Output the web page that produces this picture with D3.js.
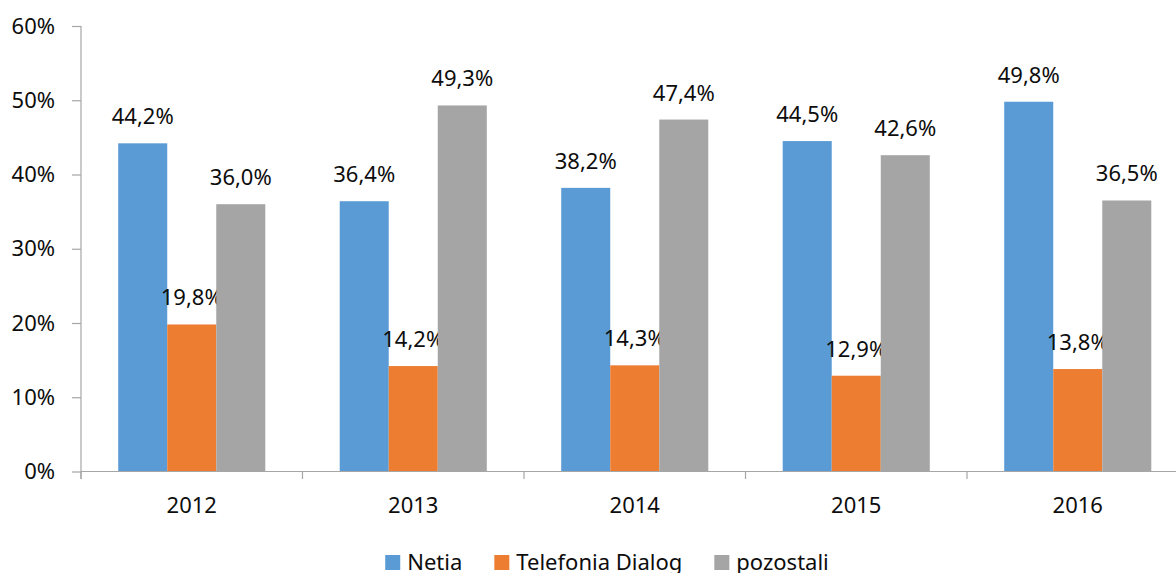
<!DOCTYPE html>
<html>
<head>
<meta charset="utf-8">
<script src="https://cdn.jsdelivr.net/npm/d3@7"></script>
<style>
    body { margin: 0; background: #fff; }
    svg text { font-family: "Noto Sans", "Open Sans", sans-serif; fill: #0d0d0d; }
</style>
</head>
<body>
<svg id="chart" width="1176" height="573"></svg>
<script>
// Categories on the x-axis
var years = ['2012', '2013', '2014', '2015', '2016'];
// Series names, in the order the bars are drawn
var seriesNames = ['Netia', 'Telefonia Dialog', 'pozostali'];
// Values of each series in percent
var netia = [44.2, 36.4, 38.2, 44.5, 49.8];
var telefoniaDialog = [19.8, 14.2, 14.3, 12.9, 13.8];
var pozostali = [36.0, 49.3, 47.4, 42.6, 36.5];
// Y-axis tick values
var yTicks = [0, 10, 20, 30, 40, 50, 60];

var seriesValues = [netia, telefoniaDialog, pozostali];
var colors = ['#5b9bd5', '#ed7d31', '#a5a5a5'];

var svg = d3.select('#chart');

// Plot area (the x-axis runs past the right edge like the original)
var plotLeft = 81, plotRight = 1188.5, plotTop = 26, plotBottom = 471.5;

// Set the scales of the chart
var x0 = d3.scaleBand()
    .domain(years)
    .range([plotLeft, plotRight])
    .paddingInner(0)
    .paddingOuter(0);

var groupWidth = x0.bandwidth() * 0.664;
var x1 = d3.scaleBand()
    .domain(seriesNames)
    .range([(x0.bandwidth() - groupWidth) / 2, (x0.bandwidth() + groupWidth) / 2]);

var y = d3.scaleLinear()
    .domain([0, 60])
    .range([plotBottom, plotTop]);

// Format numbers with a comma as decimal mark
function pct(v) {
    return v.toFixed(1).replace('.', ',') + '%';
}

// Draw the Y-Axis
var yAxis = svg.append('g')
    .attr('transform', 'translate(' + plotLeft + ',0)')
    .call(d3.axisLeft(y)
        .tickValues(yTicks)
        .tickSize(9)
        .tickPadding(17)
        .tickFormat(function(d) { return d + '%'; }));
yAxis.selectAll('line, path').attr('stroke', '#a6a6a6').attr('stroke-width', 1.2);
yAxis.select('.domain').attr('d', 'M0,' + plotTop + 'V' + (plotBottom + 7.5));
yAxis.selectAll('text')
    .attr('font-size', '22px')
    .attr('font-family', null)
    .attr('fill', '#0d0d0d');

// Draw the bars of the chart
var groups = svg.append('g')
    .selectAll('g')
    .data(years)
    .enter()
    .append('g')
    .attr('transform', function(d) { return 'translate(' + x0(d) + ',0)'; });

var cells = groups.selectAll('g.bar')
    .data(function(d, i) {
        return seriesNames.map(function(s, j) {
            return { series: s, value: seriesValues[j][i], color: colors[j] };
        });
    })
    .enter()
    .append('g')
    .classed('bar', true);

cells.append('rect')
    .attr('x', function(d) { return x1(d.series); })
    .attr('y', function(d) { return y(d.value); })
    .attr('width', x1.bandwidth())
    .attr('height', function(d) { return plotBottom - y(d.value); })
    .attr('fill', function(d) { return d.color; });

// Value labels above each bar
cells.append('text')
    .text(function(d) { return pct(d.value); })
    .attr('x', function(d) { return x1(d.series) + x1.bandwidth() / 2; })
    .attr('y', function(d) { return y(d.value) - 19; })
    .attr('text-anchor', 'middle')
    .attr('font-size', '22px');

// Draw the X-Axis with ticks between the categories
var xAxis = svg.append('g');
xAxis.append('line')
    .attr('x1', plotLeft).attr('x2', plotRight)
    .attr('y1', plotBottom).attr('y2', plotBottom)
    .attr('stroke', '#a6a6a6').attr('stroke-width', 1.2);
xAxis.selectAll('line.tick')
    .data(years)
    .enter()
    .append('line')
    .classed('tick', true)
    .attr('x1', function(d) { return x0(d); })
    .attr('x2', function(d) { return x0(d); })
    .attr('y1', plotBottom)
    .attr('y2', plotBottom + 7.5)
    .attr('stroke', '#a6a6a6').attr('stroke-width', 1.2);
xAxis.selectAll('text')
    .data(years)
    .enter()
    .append('text')
    .text(function(d) { return d; })
    .attr('x', function(d) { return x0(d) + x0.bandwidth() / 2; })
    .attr('y', 513)
    .attr('text-anchor', 'middle')
    .attr('font-size', '22px');

// Draw the legend, centered under the chart
var legend = svg.append('g');
var items = legend.selectAll('g')
    .data(seriesNames)
    .enter()
    .append('g');
items.append('rect')
    .attr('width', 15).attr('height', 15)
    .attr('y', 555)
    .attr('fill', function(d, i) { return colors[i]; });
items.append('text')
    .text(function(d) { return d; })
    .attr('x', 22)
    .attr('y', 570)
    .attr('font-size', '22px');

var offset = 0;
items.each(function() {
    var w = d3.select(this).select('text').node().getComputedTextLength();
    d3.select(this).attr('transform', 'translate(' + offset + ',0)');
    offset += 22 + w + 32;
});
var total = offset - 32;
legend.attr('transform', 'translate(' + (607 - total / 2) + ',0)');
</script>
</body>
</html>
